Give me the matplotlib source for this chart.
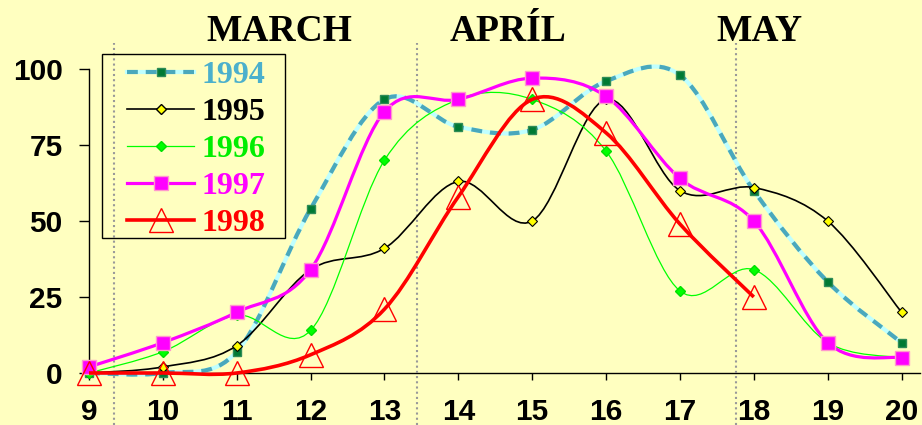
import matplotlib
matplotlib.use("Agg")
import matplotlib.pyplot as plt
from matplotlib.path import Path
from matplotlib.patches import PathPatch, Rectangle
from matplotlib.lines import Line2D

weeks = [9, 10, 11, 12, 13, 14, 15, 16, 17, 18, 19, 20]
y1994 = [0, 0, 7, 54, 90, 81, 80, 96, 98, 60, 30, 10]
y1995 = [0, 2, 9, 34, 41, 63, 50, 90, 60, 61, 50, 20]
y1996 = [0, 7, 19, 14, 70, 90, 90, 73, 27, 34, 10, 5]
y1997 = [2, 10, 20, 34, 86, 90, 97, 91, 64, 50, 10, 5]
y1998 = [0, 0, 0, 6, 21, 58, 90, 79, 49, 25]

months = ["MARCH", "APRÍL", "MAY"]
month_x = [0.3026, 0.551, 0.824]
month_bounds = [9.34, 13.44, 17.76]

BG = "#FFFFC0"
TEAL = "#4AA8BC"
CYAN = "#BFFFFF"


def smooth_path(xs, ys):
    # Catmull-Rom style bezier through the points, like a smoothed line chart
    pts = list(zip(xs, ys))
    n = len(pts)
    verts = [pts[0]]
    codes = [Path.MOVETO]
    for i in range(n - 1):
        p0 = pts[i - 1] if i > 0 else pts[i]
        p1 = pts[i]
        p2 = pts[i + 1]
        p3 = pts[i + 2] if i + 2 < n else pts[i + 1]
        c1 = (p1[0] + (p2[0] - p0[0]) / 6, p1[1] + (p2[1] - p0[1]) / 6)
        c2 = (p2[0] - (p3[0] - p1[0]) / 6, p2[1] - (p3[1] - p1[1]) / 6)
        verts += [c1, c2, p2]
        codes += [Path.CURVE4] * 3
    return Path(verts, codes)


def curve(ax, xs, ys, **kw):
    patch = PathPatch(smooth_path(xs, ys), fill=False, clip_on=False, **kw)
    ax.add_patch(patch)


fig = plt.figure(figsize=(9.22, 4.25), dpi=100, facecolor=BG)
ax = fig.add_axes([89 / 922, 52 / 425, 831 / 922, 304 / 425])
ax.set_facecolor(BG)
ax.set_xlim(9, 20.25)
ax.set_ylim(0, 100)

ax.vlines(month_bounds, -17.1, 108.5, colors="#999999", linestyles=(0, (1, 1.5)),
          linewidth=1.5, clip_on=False, zorder=1)

# 1994: dashed teal over light cyan
curve(ax, weeks, y1994, edgecolor=CYAN, linewidth=3, zorder=2)
curve(ax, weeks, y1994, edgecolor=TEAL, linewidth=3, linestyle=(0, (2.6, 1.9)), zorder=2.1)
ax.plot(weeks, y1994, ls="none", marker="s", ms=6, mfc="#007A33", mec="#2E8B57",
        clip_on=False, zorder=2.2)

curve(ax, weeks[:len(y1995)], y1995, edgecolor="black", linewidth=1.2, zorder=3)
ax.plot(weeks, y1995, ls="none", marker="D", ms=5, mfc="#FFFF00", mec="black",
        mew=0.8, clip_on=False, zorder=3.1)

curve(ax, weeks, y1996, edgecolor="#00FF00", linewidth=0.9, zorder=4)
ax.plot(weeks, y1996, ls="none", marker="D", ms=5.5, mfc="#00FF00", mec="#00E000",
        clip_on=False, zorder=4.1)

curve(ax, weeks, y1997, edgecolor="#FF00FF", linewidth=2.3, zorder=5)
ax.plot(weeks, y1997, ls="none", marker="s", ms=10, mfc="#FF00FF", mec="#FF99CC",
        mew=1, clip_on=False, zorder=5.1)

curve(ax, weeks[:len(y1998)], y1998, edgecolor="#FF0000", linewidth=2.6, zorder=6)
ax.plot(weeks[:len(y1998)], y1998, ls="none", marker="^", ms=17, mfc="none",
        mec="#FF0000", mew=1, clip_on=False, zorder=6.1)

for s in ["top", "right"]:
    ax.spines[s].set_visible(False)
for s in ["left", "bottom"]:
    ax.spines[s].set_linewidth(1)
    ax.spines[s].set_zorder(0.5)

ax.set_xticks(weeks)
ax.set_yticks([0, 25, 50, 75, 100])
tick_font = {"family": "Liberation Sans", "weight": "bold", "size": 21.5}
ax.set_xticklabels([str(w) for w in weeks], fontdict=tick_font)
ax.set_yticklabels(["0", "25", "50", "75", "100"], fontdict=tick_font)
ax.tick_params(axis="x", direction="out", length=5, width=1, pad=13)
ax.tick_params(axis="y", direction="out", length=7, width=1, pad=12)

for name, xm in zip(months, month_x):
    fig.text(xm, 0.9035, name, ha="center", va="baseline",
             family="Liberation Serif", weight="bold", size=27)

# legend box drawn separately so the padding can be set per side
box = Rectangle((102 / 922, 1 - 238 / 425), 183 / 922, 184 / 425,
                transform=fig.transFigure, facecolor="none", edgecolor="black",
                linewidth=1, zorder=9)
fig.add_artist(box)

handles = [
    (Line2D([], [], color=CYAN, lw=3),
     Line2D([], [], color=TEAL, lw=3, ls=(0, (2.6, 1.9)), marker="s", ms=6,
            mfc="#007A33", mec="#2E8B57")),
    Line2D([], [], color="black", lw=1.2, marker="D", ms=5, mfc="#FFFF00", mec="black"),
    Line2D([], [], color="#00FF00", lw=0.9, marker="D", ms=5.5, mfc="#00FF00", mec="#00E000"),
    Line2D([], [], color="#FF00FF", lw=2.3, marker="s", ms=10, mfc="#FF00FF", mec="#FF99CC"),
    Line2D([], [], color="#FF0000", lw=2.6, marker="^", ms=17, mfc="none", mec="#FF0000"),
]
labels = ["1994", "1995", "1996", "1997", "1998"]
label_colors = ["#4BB0CC", "black", "#00EE00", "#FF00FF", "#FF0000"]
leg = fig.legend(handles, labels, loc="upper left", bbox_to_anchor=(127 / 922, 1 - 61 / 425),
                 bbox_transform=fig.transFigure, frameon=False,
                 prop={"family": "Liberation Serif", "weight": "bold", "size": 23},
                 handlelength=2.1, handletextpad=0.22, labelspacing=0.24,
                 borderpad=0, borderaxespad=0)
leg.set_zorder(10)
for t, c in zip(leg.get_texts(), label_colors):
    t.set_color(c)

fig.savefig("out.png", dpi=100, facecolor=BG)
